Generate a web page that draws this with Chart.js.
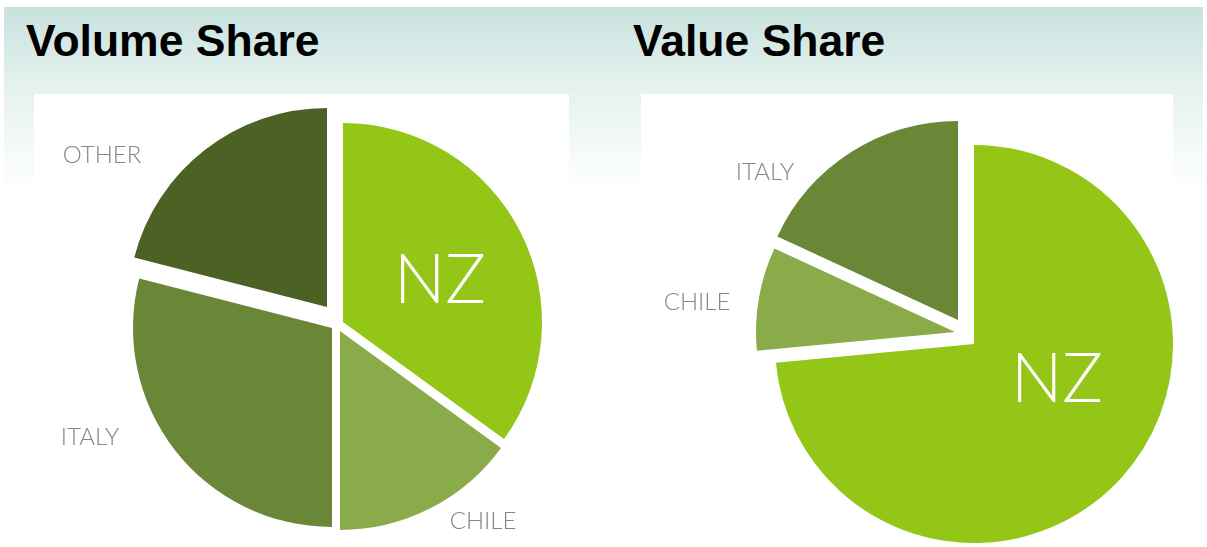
<!DOCTYPE html>
<html>
<head>
<meta charset="utf-8">
<script src="https://cdn.jsdelivr.net/npm/chart.js@4"></script>
<style>
  html, body { margin: 0; padding: 0; width: 1207px; height: 547px; overflow: hidden; background: #fff; }
  .band { position: absolute; left: 4px; right: 4px; top: 7px; height: 185px;
          background: linear-gradient(to bottom, #c7e2dd 0%, #e6f2f0 45%, #ffffff 100%); }
  .panel { position: absolute; top: 94px; height: 460px; background: #fff; }
  .title { position: absolute; top: 19px; font: bold 44.5px/44px "Liberation Sans", Arial, sans-serif; color: #000; }
  canvas { position: absolute; }
</style>
</head>
<body>
<div class="band"></div>
<div class="panel" style="left:34px; width:535px"></div>
<div class="panel" style="left:641px; width:532px"></div>
<div class="title" style="left:26px">Volume Share</div>
<div class="title" style="left:633px">Value Share</div>
<canvas id="volume" width="668" height="644" style="left:0px; top:0px"></canvas>
<canvas id="value" width="660" height="670" style="left:635px; top:0px"></canvas>
<script>
// data
const volumeLabels = ['NZ', 'CHILE', 'ITALY', 'OTHER'];
const volumeShare = [35, 15, 29, 21];
const valueLabels = ['NZ', 'CHILE', 'ITALY'];
const valueShare = [73.5, 8.4, 18.1];

const colors = { NZ: '#93c617', CHILE: '#8aab4a', ITALY: '#6a8637', OTHER: '#4b6224' };

// move each slice away from the centre (exploded pie)
const explode = {
  id: 'explode',
  afterDatasetsUpdate(chart, args, opts) {
    chart.getDatasetMeta(0).data.forEach((arc, i) => {
      const s = opts.shifts[i] || [0, 0];
      arc.x += s[0];
      arc.y += s[1];
    });
  }
};

// country names, NZ inside in white, the rest outside in grey
const sliceLabels = {
  id: 'sliceLabels',
  afterDatasetsDraw(chart, args, opts) {
    const ctx = chart.ctx;
    ctx.save();
    ctx.textAlign = 'center';
    ctx.textBaseline = 'alphabetic';
    chart.getDatasetMeta(0).data.forEach((arc, i) => {
      const p = opts.spots[i];
      const big = i === 0;
      ctx.font = big ? '300 68px Lato, Roboto, sans-serif' : '300 24px Lato, Roboto, sans-serif';
      ctx.fillStyle = big ? '#ffffff' : '#85858a';
      ctx.fillText(chart.data.labels[i], arc.x + p[0], arc.y + p[1]);
    });
    ctx.restore();
  }
};

function makePie(id, labels, values, shifts, spots) {
  new Chart(document.getElementById(id), {
    type: 'pie',
    data: {
      labels: labels,
      datasets: [{
        data: values,
        backgroundColor: labels.map(l => colors[l]),
        borderWidth: 0
      }]
    },
    options: {
      responsive: false,
      animation: false,
      events: [],
      radius: 199,
      layout: { padding: 0 },
      plugins: {
        legend: { display: false },
        tooltip: { enabled: false },
        explode: { shifts: shifts },
        sliceLabels: { spots: spots }
      }
    },
    plugins: [explode, sliceLabels]
  });
}

makePie('volume', volumeLabels, volumeShare,
  [[9, 0], [6, 9], [-2, 6], [-7, -15]],
  [[97, -19], [143, 198], [-242, 117], [-225, -144]]);

makePie('value', valueLabels, valueShare,
  [[9, 9], [-10, -3], [-7, -15]],
  [[83, 58], [-258, -22], [-193, -140]]);
</script>
</body>
</html>
